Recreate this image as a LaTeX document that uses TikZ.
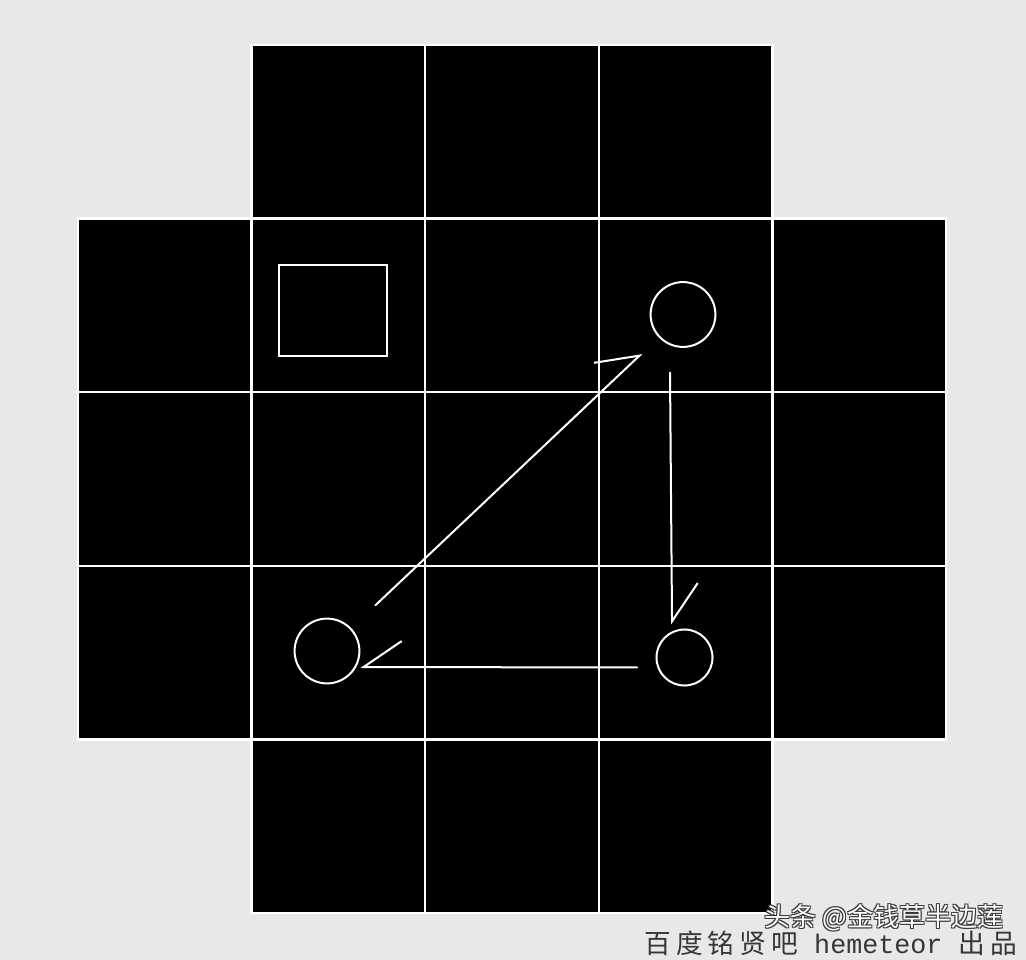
\documentclass[tikz,border=0pt]{standalone}
\usepackage{fontspec}
\newfontfamily\cjk{Noto Sans CJK SC}
\newfontfamily\cjkwide[LetterSpace=19]{Noto Sans CJK SC}
\newfontfamily\latinmono{Liberation Mono}
\usepackage{tikz}
\usetikzlibrary{arrows.meta,positioning}
\definecolor{paper}{RGB}{232,232,232}
\definecolor{ink}{RGB}{55,55,55}
\tikzset{
  cell/.style={fill=black,draw=white,line width=0.06cm},
  ring/.style={circle,draw=white,line width=0.05cm,inner sep=0pt},
  harp/.style={draw=white,line width=0.05cm,line cap=round,-{Straight Barb[harpoon,length=0.95cm,width=1.3cm]}},
  harpswap/.style={draw=white,line width=0.05cm,line cap=round,-{Straight Barb[harpoon,swap,length=0.95cm,width=1.3cm]}}
}

\begin{document}
\begin{tikzpicture}[x=0.025cm,y=-0.025cm]
				\fill[paper] (0,0) rectangle (1026,960);
				\useasboundingbox (0,0) rectangle (1026,960);
				
				\foreach \r/\cols in {0/{1,2,3},1/{0,1,2,3,4},2/{0,1,2,3,4},3/{0,1,2,3,4},4/{1,2,3}}
					\foreach \c in \cols
						\draw[cell] ({78+173.6*\c},{45+173.6*\r}) rectangle ++(173.6,173.6);
				
				\node[draw=white,line width=0.05cm,minimum width=2.7cm,minimum height=2.275cm,inner sep=0pt] (box) at (333,310.5) {};
				
				\node[ring,minimum size=1.62cm] (top) at (683,314.5) {};
				\node[ring,minimum size=1.62cm] (left) at (327,651) {};
				\node[ring,minimum size=1.4cm] (right) at (684.5,657.5) {};
				
				\draw[harp,shorten <=0.83cm,shorten >=0.58cm] (left) -- (top);
				\draw[harp,shorten <=0.62cm,shorten >=0.1cm] ([xshift=-0.33cm]top.south) -- ([xshift=-0.31cm]right.north);
				\draw[harpswap,shorten <=0.46cm] ([yshift=-0.25cm]right.west) -- ([yshift=-0.4cm]left.east);
				
				% % % % % % % % % % % % % % % % % % % % % % % % % %
				
				\node[text=ink,font=\fontsize{19}{20}\selectfont,anchor=east] (credit) at (1022,943) {\cjkwide 百度铭贤吧\latinmono{} hemeteor \cjkwide 出品};
				
				\foreach \dx/\dy in {1/1,-1/1,1/-1,-1/-1}
					\node[text=ink,font=\cjk\fontsize{18.5}{20}\selectfont] at (884+\dx,918+\dy) {头条 @金钱草半边莲};
				\node[text=white,font=\cjk\fontsize{18.5}{20}\selectfont] (wm) at (884,918) {头条 @金钱草半边莲};
\end{tikzpicture}
\end{document}
